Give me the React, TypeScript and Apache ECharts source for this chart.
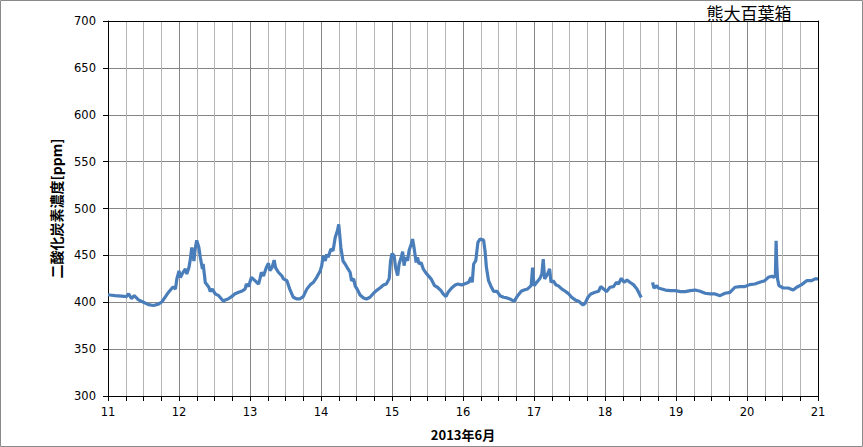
import React, { useEffect, useRef } from "react";
import * as echarts from "echarts";

// CO2 concentration [ppm], pairs of [day of June 2013, ppm]
const june11: [number, number][] = [
  [11.0, 408], [11.05, 407.5], [11.1, 407], [11.19, 406.5], [11.26, 406], [11.29, 409], [11.33, 404], [11.37, 407],
  [11.43, 402.5], [11.5, 400], [11.57, 397.5], [11.64, 396.5], [11.71, 398], [11.76, 400.5], [11.81, 406],
  [11.85, 410.5], [11.9, 415], [11.92, 416.5], [11.95, 414], [11.97, 425],
];
const june12: [number, number][] = [
  [12.0, 433.5], [12.02, 426.5], [12.05, 431], [12.09, 435.5], [12.11, 430], [12.14, 437], [12.16, 446], [12.18, 458.5],
  [12.21, 444], [12.23, 458], [12.25, 466], [12.28, 458.5], [12.3, 448], [12.33, 435.5], [12.34, 441], [12.36, 428],
  [12.37, 421], [12.42, 416], [12.44, 411.5], [12.47, 414], [12.51, 409], [12.56, 407], [12.61, 402.5], [12.63, 401],
  [12.65, 402.5], [12.69, 403.5], [12.74, 406], [12.79, 409], [12.84, 410.6], [12.88, 411.7], [12.93, 414],
  [12.95, 419.5], [12.98, 416.7],
];
const june13: [number, number][] = [
  [13.02, 426.6], [13.07, 423], [13.12, 419.5], [13.14, 425], [13.16, 432], [13.19, 428], [13.23, 437], [13.26, 441.5],
  [13.28, 433.7], [13.31, 437], [13.34, 445], [13.36, 437], [13.4, 432], [13.45, 428], [13.47, 425], [13.52, 423],
  [13.56, 414], [13.61, 405.3], [13.66, 403.5], [13.7, 403.5], [13.75, 406], [13.8, 414], [13.85, 418.8], [13.89, 421],
  [13.94, 426.6], [13.99, 433.7],
];
const june14: [number, number][] = [
  [14.01, 439], [14.03, 449.6], [14.06, 444], [14.08, 451], [14.1, 448], [14.14, 456.7], [14.17, 455], [14.2, 469],
  [14.23, 476], [14.25, 483], [14.28, 458.5], [14.31, 444], [14.34, 440.8], [14.38, 435.5], [14.41, 432], [14.43, 423],
  [14.46, 425], [14.48, 417.7], [14.52, 412.4], [14.55, 407.8], [14.6, 404.6], [14.64, 403.5], [14.69, 405.3],
  [14.74, 409.6], [14.78, 412.4], [14.83, 415.2], [14.88, 418.4], [14.92, 419.5], [14.96, 425], [14.98, 444.3],
];
const june15: [number, number][] = [
  [15.0, 452], [15.03, 449.6], [15.05, 437], [15.08, 428.4], [15.1, 440.8], [15.13, 448], [15.15, 454], [15.17, 439],
  [15.19, 448], [15.22, 444.3], [15.24, 455], [15.27, 462], [15.29, 467.4], [15.31, 458.5], [15.34, 442.5], [15.36, 448],
  [15.38, 440.8], [15.41, 442.5], [15.44, 435.5], [15.47, 432], [15.51, 428.4], [15.55, 425], [15.6, 417.7], [15.64, 416],
  [15.69, 412.4], [15.72, 408.9], [15.76, 406], [15.79, 410.6], [15.84, 415.2], [15.89, 418.4], [15.93, 419.5],
  [15.98, 418.4],
];
const june16: [number, number][] = [
  [16.02, 419.5], [16.08, 421.3], [16.11, 426.6], [16.13, 421.3], [16.15, 440.8], [16.18, 444.3], [16.21, 463.8],
  [16.24, 467.4], [16.29, 466.3], [16.31, 455], [16.33, 437], [16.36, 423], [16.39, 417.7], [16.43, 411.7],
  [16.48, 411.7], [16.52, 407], [16.57, 405.3], [16.62, 404.6], [16.66, 403.5], [16.72, 401], [16.77, 407],
  [16.82, 411.7], [16.86, 413], [16.91, 414.2], [16.96, 417.7], [16.98, 437],
];
const june17: [number, number][] = [
  [17.0, 417.7], [17.04, 421.3], [17.08, 425], [17.11, 430], [17.13, 446], [17.15, 425], [17.19, 430], [17.22, 435.5],
  [17.24, 421.3], [17.27, 423], [17.31, 418.4], [17.34, 417.7], [17.39, 414.2], [17.44, 411.7], [17.49, 408.9],
  [17.53, 405.3], [17.58, 402.5], [17.63, 401], [17.69, 397], [17.72, 399], [17.76, 405.3], [17.8, 408.9],
  [17.86, 410.6], [17.91, 411.7], [17.94, 416.7], [17.98, 414.2],
];
const june18am: [number, number][] = [
  [18.02, 411.3], [18.07, 416], [18.12, 416.7], [18.16, 421.3], [18.19, 419.5], [18.23, 425.5], [18.27, 421.3],
  [18.31, 423.8], [18.35, 421.3], [18.4, 418.8], [18.45, 414.2], [18.48, 409.6], [18.51, 405],
];
const june18pm: [number, number][] = [
  [18.67, 421.3], [18.69, 415.2], [18.73, 417.7], [18.75, 415.2], [18.8, 414.2], [18.85, 413], [18.92, 412.4],
  [18.99, 412.4],
];
const june19: [number, number][] = [
  [19.06, 411.3], [19.13, 411.3], [19.2, 412.4], [19.27, 413], [19.34, 411.7], [19.41, 409.6], [19.48, 408.9],
  [19.55, 408.9], [19.62, 407], [19.69, 409.6], [19.76, 410.6], [19.83, 416], [19.9, 416.7], [19.97, 416.7],
];
const june20: [number, number][] = [
  [20.04, 418.8], [20.11, 419.5], [20.18, 421.3], [20.25, 423], [20.3, 426.6], [20.35, 427.7], [20.38, 426.6],
  [20.4, 428.4], [20.41, 465.6], [20.42, 440], [20.43, 425], [20.45, 417.7], [20.51, 415.2], [20.58, 415.2],
  [20.65, 413], [20.7, 416], [20.77, 418.8], [20.84, 423], [20.91, 423], [20.96, 425], [21.0, 425],
];
const gapAt = 18.6;

const yTitle = "二酸化炭素濃度[ppm]";
const xTitle = "2013年6月";
const chartTitle = "熊大百葉箱";

export default function App() {
  const ref = useRef<HTMLDivElement>(null);
  useEffect(() => {
    document.body.style.margin = "0";
    if (!ref.current) return;
    const chart = echarts.init(ref.current, null, { renderer: "svg" });
    const data: any[] = [
      ...june11, ...june12, ...june13, ...june14, ...june15, ...june16, ...june17,
      ...june18am, [gapAt, "-"], ...june18pm, ...june19, ...june20,
    ];
    const labelFont = { fontFamily: "DejaVu Sans", fontSize: 11.5, color: "#000" };
    const cjk = "'Noto Sans CJK JP', sans-serif";
    chart.setOption({
      animation: false,
      backgroundColor: "#fff",
      grid: { left: 108, right: 45, top: 21, bottom: 51 },
      graphic: [
        {
          type: "rect",
          shape: { x: 0.5, y: 0.5, width: 862, height: 446 },
          style: { fill: "none", stroke: "#8a8a8a", lineWidth: 1 },
          silent: true,
        },
        {
          type: "text",
          x: 749,
          y: 12,
          style: {
            text: chartTitle,
            fontFamily: cjk,
            fontSize: 17,
            fill: "#000",
            textAlign: "center",
            textVerticalAlign: "middle",
          },
        },
      ],
      xAxis: [
        {
          type: "value",
          min: 11,
          max: 21,
          interval: 1,
          axisLine: { show: true, onZero: false, lineStyle: { color: "#000", width: 1 } },
          axisTick: { show: true, inside: false, length: 5, lineStyle: { color: "#000" } },
          minorTick: { show: true, splitNumber: 4, length: 5, lineStyle: { color: "#000" } },
          splitLine: { show: true, lineStyle: { color: "#868686", width: 1 } },
          minorSplitLine: { show: true, lineStyle: { color: "#b4b4b4", width: 1 } },
          axisLabel: { ...labelFont, margin: 10 },
          name: xTitle,
          nameLocation: "middle",
          nameGap: 32,
          nameTextStyle: { fontFamily: cjk, fontWeight: "bold", fontSize: 13, color: "#000" },
        },
        {
          type: "value",
          position: "top",
          min: 11,
          max: 21,
          interval: 1,
          axisLine: { show: true, onZero: false, lineStyle: { color: "#000" } },
          axisTick: { show: false },
          axisLabel: { show: false },
          splitLine: { show: false },
        },
      ],
      yAxis: [
        {
          type: "value",
          min: 300,
          max: 700,
          interval: 50,
          axisLine: { show: true, onZero: false, lineStyle: { color: "#000" } },
          axisTick: { show: true, inside: false, length: 5, lineStyle: { color: "#000" } },
          splitLine: { show: true, lineStyle: { color: "#868686", width: 1 } },
          axisLabel: { ...labelFont, margin: 12 },
          name: yTitle,
          nameLocation: "middle",
          nameGap: 37,
          nameRotate: 90,
          nameTextStyle: { fontFamily: cjk, fontWeight: "bold", fontSize: 14, color: "#000" },
        },
        {
          type: "value",
          position: "right",
          min: 300,
          max: 700,
          interval: 50,
          axisLine: { show: true, onZero: false, lineStyle: { color: "#000" } },
          axisTick: { show: false },
          axisLabel: { show: false },
          splitLine: { show: false },
        },
      ],
      series: [
        {
          type: "line",
          xAxisIndex: 0,
          yAxisIndex: 0,
          data,
          showSymbol: false,
          symbol: "none",
          connectNulls: false,
          lineStyle: { color: "#4a7ebb", width: 3.2 },
          z: 5,
        },
      ],
    });
    return () => chart.dispose();
  }, []);
  return <div ref={ref} style={{ width: 863, height: 447 }} />;
}
